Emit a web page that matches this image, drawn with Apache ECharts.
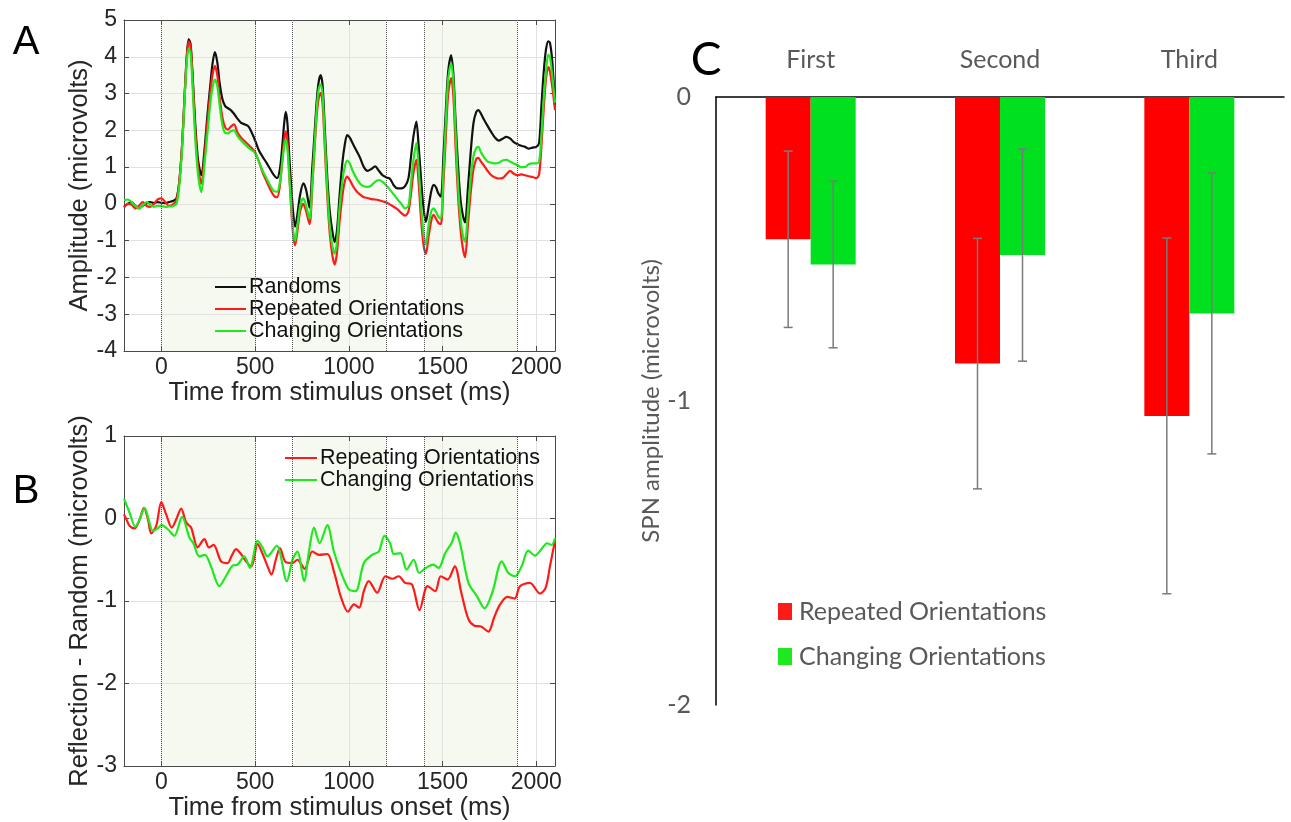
<!DOCTYPE html>
<html><head><meta charset="utf-8">
<script src="https://cdn.jsdelivr.net/npm/echarts@6/dist/echarts.min.js"></script>
<style>html,body{margin:0;padding:0;background:#fff}#chart{width:1291px;height:822px}</style>
</head><body><div id="chart"></div>
<script>
// ---------- Panel A data (ERP waveforms) ----------
const timesA = [-200,-180,-160,-140,-120,-100,-80,-60,-40,-20,0,20,40,60,80,95,110,125,135,145,155,165,180,195,213,230,245,260,272,285,298,310,325,340,355,370,387,405,425,445,465,485,500,520,540,560,580,600,617,632,645,655,663,672,682,692,702,713,725,740,757,772,790,805,818,830,840,850,860,872,885,898,912,924,936,950,965,978,991,1005,1020,1040,1060,1080,1100,1120,1140,1160,1180,1200,1220,1240,1260,1280,1300,1318,1332,1345,1360,1372,1385,1398,1411,1425,1440,1452,1465,1478,1491,1505,1518,1530,1546,1558,1570,1583,1596,1608,1620,1635,1650,1665,1680,1691,1705,1720,1740,1760,1780,1800,1820,1840,1860,1880,1900,1920,1940,1960,1980,2000,2015,2028,2040,2052,2064,2073,2085,2100];
const randomsA = [-0.08,0.00,0.05,-0.05,-0.12,-0.05,0.02,0.05,0.02,0.05,0.03,0.02,0.05,0.08,0.15,0.60,1.60,3.10,4.00,4.48,4.35,3.60,2.20,1.20,0.78,1.50,2.40,3.20,3.80,4.13,3.85,3.30,2.85,2.66,2.60,2.55,2.45,2.32,2.20,2.16,2.10,1.90,1.72,1.45,1.28,1.12,0.95,0.78,0.70,0.95,1.60,2.20,2.50,2.20,1.30,0.50,-0.20,-0.62,-0.30,0.25,0.56,0.38,-0.10,1.00,2.00,2.90,3.35,3.50,3.20,2.00,0.70,-0.20,-0.75,-1.04,-0.75,0.20,1.10,1.60,1.87,1.80,1.65,1.45,1.25,1.00,0.90,0.95,1.02,0.90,0.78,0.72,0.68,0.50,0.42,0.42,0.48,0.70,1.30,1.85,2.24,1.60,0.70,-0.10,-0.49,-0.10,0.35,0.52,0.45,0.28,0.20,1.33,2.60,3.60,4.04,3.50,2.20,1.00,0.10,-0.30,-0.50,0.40,1.40,2.20,2.50,2.55,2.45,2.30,2.12,1.95,1.80,1.72,1.77,1.82,1.78,1.68,1.62,1.58,1.55,1.50,1.53,1.55,1.65,2.70,3.60,4.20,4.42,4.38,3.90,2.70];
const repeatedA = [-0.10,0.00,-0.02,-0.12,-0.05,0.05,-0.05,-0.08,0.00,0.12,0.15,0.05,-0.05,-0.02,0.10,0.60,1.60,3.10,4.00,4.42,4.30,3.50,2.00,1.00,0.55,1.30,2.20,3.00,3.50,3.75,3.50,2.90,2.35,2.08,2.02,2.10,2.16,1.95,1.80,1.70,1.60,1.50,1.40,1.15,0.85,0.62,0.40,0.22,0.18,0.50,1.20,1.75,1.97,1.70,0.80,-0.10,-0.80,-1.13,-0.75,-0.20,0.00,-0.20,-0.55,0.50,1.60,2.50,2.90,3.02,2.70,1.50,0.20,-0.80,-1.40,-1.65,-1.35,-0.50,0.20,0.60,0.74,0.65,0.50,0.35,0.25,0.18,0.16,0.13,0.12,0.10,0.07,0.04,-0.02,-0.08,-0.15,-0.25,-0.32,-0.20,0.30,0.85,1.20,0.60,-0.40,-1.10,-1.36,-0.90,-0.45,-0.30,-0.40,-0.52,-0.55,0.60,1.90,3.00,3.42,2.90,1.50,0.20,-0.70,-1.20,-1.45,-0.60,0.30,0.95,1.22,1.25,1.15,1.05,0.90,0.78,0.72,0.69,0.70,0.80,0.90,0.82,0.78,0.80,0.78,0.75,0.73,0.70,0.80,1.60,2.60,3.40,3.72,3.60,3.20,2.55];
const changingA = [0.10,0.12,0.05,-0.05,-0.12,-0.05,0.05,-0.02,-0.08,-0.05,-0.06,-0.08,-0.07,-0.06,0.00,0.50,1.50,3.00,3.85,4.22,4.10,3.30,1.80,0.80,0.32,1.10,1.90,2.70,3.15,3.38,3.20,2.70,2.15,1.93,1.92,1.98,2.00,1.85,1.72,1.62,1.52,1.45,1.38,1.15,0.90,0.70,0.50,0.35,0.33,0.60,1.15,1.58,1.75,1.50,0.75,0.00,-0.70,-1.00,-0.60,-0.05,0.15,-0.05,-0.40,0.60,1.70,2.70,3.15,3.25,2.95,1.70,0.40,-0.60,-1.15,-1.35,-1.05,-0.10,0.60,1.00,1.18,1.10,0.90,0.70,0.55,0.48,0.46,0.50,0.60,0.65,0.60,0.50,0.38,0.25,0.12,0.00,-0.12,-0.05,0.60,1.20,1.65,1.00,0.00,-0.80,-1.10,-0.60,-0.20,-0.12,-0.22,-0.35,-0.40,0.90,2.30,3.40,3.83,3.30,1.90,0.50,-0.40,-0.85,-1.03,-0.20,0.70,1.30,1.52,1.55,1.40,1.28,1.15,1.12,1.10,1.12,1.18,1.20,1.15,1.10,1.05,1.00,1.00,1.08,1.10,1.10,1.15,1.90,2.90,3.60,4.05,4.00,3.50,2.75];

// ---------- Panel B data (difference waves) ----------
const timesBRepeating = [-200,-185,-170,-143,-116,-94,-72,-55,-28,-1,25,55,79,105,132,158,193,229,253,278,318,353,375,398,424,451,480,513,540,566,587,610,632,663,699,725,764,805,841,885,920,956,995,1027,1055,1080,1106,1151,1195,1231,1266,1300,1337,1377,1420,1461,1490,1527,1565,1600,1638,1670,1705,1745,1775,1805,1845,1885,1913,1966,2020,2050,2073,2100];
const valuesBRepeating = [0.05,-0.02,-0.09,-0.12,-0.01,0.13,-0.01,-0.18,-0.09,0.20,0.05,-0.11,-0.01,0.12,-0.05,-0.11,-0.35,-0.25,-0.35,-0.32,-0.52,-0.54,-0.45,-0.37,-0.43,-0.52,-0.58,-0.31,-0.43,-0.58,-0.68,-0.50,-0.36,-0.53,-0.54,-0.50,-0.61,-0.40,-0.44,-0.43,-0.64,-0.94,-1.13,-1.04,-1.08,-0.88,-0.76,-0.90,-0.70,-0.73,-0.70,-0.78,-0.80,-1.11,-0.82,-0.88,-0.70,-0.74,-0.58,-0.90,-1.22,-1.30,-1.31,-1.37,-1.20,-1.05,-0.95,-0.97,-0.82,-0.78,-0.91,-0.84,-0.58,-0.27];
const timesBChanging = [-200,-170,-140,-115,-90,-70,-46,-20,0,34,69,110,149,170,202,232,264,309,344,380,406,442,472,513,539,566,615,669,699,725,761,787,814,844,885,920,956,1000,1036,1080,1124,1160,1190,1220,1240,1275,1308,1346,1375,1410,1450,1479,1514,1550,1570,1594,1638,1683,1724,1765,1816,1851,1887,1922,1957,1993,2025,2058,2082,2100];
const valuesBChanging = [0.24,0.07,-0.10,0.00,0.13,0.00,-0.15,-0.12,-0.08,-0.13,-0.21,0.02,-0.23,-0.30,-0.46,-0.44,-0.58,-0.82,-0.70,-0.57,-0.56,-0.46,-0.60,-0.27,-0.35,-0.46,-0.33,-0.76,-0.50,-0.40,-0.76,-0.40,-0.11,-0.30,-0.08,-0.40,-0.64,-0.86,-0.88,-0.54,-0.44,-0.40,-0.21,-0.30,-0.43,-0.42,-0.62,-0.50,-0.66,-0.60,-0.56,-0.60,-0.42,-0.29,-0.17,-0.31,-0.78,-0.94,-1.09,-0.90,-0.52,-0.66,-0.70,-0.58,-0.39,-0.45,-0.38,-0.30,-0.32,-0.24];

// ---------- Shared time-axis annotations ----------
const timeTicks = [0, 500, 1000, 1500, 2000];
const epochLines = [0, 500, 700, 1200, 1400, 1900];
const shadedWindows = [[0, 500], [700, 1200], [1400, 1900]];

// ---------- Panel C data (SPN bars) ----------
const presentations = ['First', 'Second', 'Third'];
const repeatedSPN = [-0.468, -0.877, -1.049];
const repeatedErr = [0.290, 0.412, 0.585];
const changingSPN = [-0.551, -0.520, -0.712];
const changingErr = [0.274, 0.349, 0.462];

// ---------- Styling ----------
const RED = '#ff1a1a', GREEN = '#1fe81f', BLACK = '#111111';
const BAR_RED = '#ff0000', BAR_GREEN = '#00e01f';
const HEL = 'Liberation Sans';
const AX = '#4a4a4a', TXT = '#262626', GRIDC = '#e2e2e2';
const CAL = 'Lato', CTXT = '#595959';

function pair(ts, vs) { return ts.map((t, i) => [t, vs[i]]); }

function timeAxes(grid, nameGap) {
  return [
    { type: 'value', gridIndex: grid, position: 'bottom', min: -200, max: 2100, z: 2,
      name: 'Time from stimulus onset (ms)', nameLocation: 'middle', nameGap: nameGap,
      nameTextStyle: { fontFamily: HEL, fontSize: 25.5, color: TXT },
      axisLine: { show: true, onZero: false, lineStyle: { color: AX, width: 1 } },
      axisTick: { show: true, inside: true, length: 5, customValues: timeTicks, lineStyle: { color: AX } },
      axisLabel: { customValues: timeTicks, margin: 5, fontFamily: HEL, fontSize: 23, color: TXT,
        formatter: v => String(v) },
      splitLine: { show: true, lineStyle: { color: GRIDC, width: 1 } } },
    { type: 'value', gridIndex: grid, position: 'top', min: -200, max: 2100, z: 2,
      axisLine: { show: true, onZero: false, lineStyle: { color: AX, width: 1 } },
      axisTick: { show: true, inside: true, length: 5, customValues: timeTicks, lineStyle: { color: AX } },
      axisLabel: { show: false }, splitLine: { show: false } }
  ];
}
function ampAxes(grid, min, max, name, nameGap) {
  return [
    { type: 'value', gridIndex: grid, position: 'left', min: min, max: max, interval: 1, z: 2,
      name: name, nameLocation: 'middle', nameGap: nameGap,
      nameTextStyle: { fontFamily: HEL, fontSize: 25.5, color: TXT },
      axisLine: { show: true, onZero: false, lineStyle: { color: AX, width: 1 } },
      axisTick: { show: true, inside: true, length: 5, lineStyle: { color: AX } },
      axisLabel: { margin: 7, fontFamily: HEL, fontSize: 23, color: TXT },
      splitLine: { show: true, lineStyle: { color: GRIDC, width: 1 } } },
    { type: 'value', gridIndex: grid, position: 'right', min: min, max: max, interval: 1, z: 2,
      axisLine: { show: true, onZero: false, lineStyle: { color: AX, width: 1 } },
      axisTick: { show: true, inside: true, length: 5, lineStyle: { color: AX } },
      axisLabel: { show: false }, splitLine: { show: false } }
  ];
}
function shadingSeries(xi, yi) {
  return { type: 'line', xAxisIndex: xi, yAxisIndex: yi, data: [], z: 1, silent: true,
    markArea: { silent: true, itemStyle: { color: '#f6f9f0' },
      data: shadedWindows.map(([a, b]) => [{ xAxis: a }, { xAxis: b }]) },
    markLine: { silent: true, symbol: ['none', 'none'], label: { show: false },
      lineStyle: { type: 'dotted', color: '#555', width: 1 },
      data: epochLines.map(v => ({ xAxis: v })) } };
}
function wave(name, xi, yi, data, color) {
  return { type: 'line', name: name, xAxisIndex: xi, yAxisIndex: yi, data: data, z: 3,
    symbol: 'none', smooth: 0.3, lineStyle: { color: color, width: 2.2 }, itemStyle: { color: color } };
}
function errorBars(means, errs, offset) {
  return { type: 'custom', xAxisIndex: 4, yAxisIndex: 4, z: 5, silent: true,
    data: means.map((m, i) => [i, m, errs[i]]),
    renderItem: function (params, api) {
      const i = api.value(0), m = api.value(1), e = api.value(2);
      const p1 = api.coord([i, m + e]), p2 = api.coord([i, m - e]);
      const x = p1[0] + offset, hw = 4.5;
      const st = { stroke: '#7a7a7a', lineWidth: 1.5 };
      return { type: 'group', children: [
        { type: 'line', shape: { x1: x, y1: p1[1], x2: x, y2: p2[1] }, style: st },
        { type: 'line', shape: { x1: x - hw, y1: p1[1], x2: x + hw, y2: p1[1] }, style: st },
        { type: 'line', shape: { x1: x - hw, y1: p2[1], x2: x + hw, y2: p2[1] }, style: st }
      ] };
    } };
}

const chart = echarts.init(document.getElementById('chart'), null, { renderer: 'canvas' });
chart.setOption({
  animation: false,
  backgroundColor: '#ffffff',
  grid: [
    { left: 124, top: 20, width: 431, height: 331 },
    { left: 124, top: 436, width: 431, height: 331 },
    { left: 716, top: 97, width: 568, height: 608 }
  ],
  xAxis: [
    ...timeAxes(0, 25),
    ...timeAxes(1, 29),
    { type: 'category', gridIndex: 2, position: 'top', data: presentations,
      axisLine: { show: true, onZero: false, lineStyle: { color: '#000', width: 1.5 } },
      axisTick: { show: false },
      axisLabel: { margin: 25, fontFamily: CAL, fontSize: 25, color: CTXT },
      splitLine: { show: false } }
  ],
  yAxis: [
    ...ampAxes(0, -4, 5, 'Amplitude (microvolts)', 31),
    ...ampAxes(1, -3, 1, 'Reflection - Random (microvolts)', 29),
    { type: 'value', gridIndex: 2, min: -2, max: 0, interval: 1,
      name: 'SPN amplitude (microvolts)', nameLocation: 'middle', nameGap: 48,
      nameTextStyle: { fontFamily: CAL, fontSize: 24, color: CTXT },
      axisLine: { show: true, onZero: false, lineStyle: { color: '#000', width: 1.5 } },
      axisTick: { show: false },
      axisLabel: { margin: 25, fontFamily: CAL, fontSize: 25, color: CTXT },
      splitLine: { show: false } }
  ],
  legend: [
    { data: ['Randoms', 'Repeated Orientations', 'Changing Orientations'], orient: 'vertical',
      left: 215, top: 276, padding: 0, itemGap: 0, icon: 'rect', itemWidth: 31, itemHeight: 2,
      textStyle: { fontFamily: HEL, fontSize: 21.5, color: '#111', lineHeight: 21, padding: [0, 0, 0, -2] },
      selectedMode: false },
    { data: ['Repeating Orientations', 'Changing Orientations'], orient: 'vertical',
      left: 285, top: 447, padding: 0, itemGap: 0, icon: 'rect', itemWidth: 32, itemHeight: 2,
      textStyle: { fontFamily: HEL, fontSize: 21.5, color: '#111', lineHeight: 21, padding: [0, 0, 0, -2] },
      selectedMode: false },
    { data: ['Repeated Orientations', 'Changing Orientations'], orient: 'vertical',
      left: 778, top: 599, padding: 0, itemGap: 20, icon: 'rect', itemWidth: 14, itemHeight: 17,
      textStyle: { fontFamily: CAL, fontSize: 25, color: CTXT, lineHeight: 25, padding: [0, 0, 0, 2] },
      selectedMode: false }
  ],
  graphic: [
    { type: 'text', x: 26, y: 43, style: { text: 'A', fontFamily: HEL, fontSize: 40, fill: '#000', align: 'center', verticalAlign: 'middle' } },
    { type: 'text', x: 26, y: 492, style: { text: 'B', fontFamily: HEL, fontSize: 40, fill: '#000', align: 'center', verticalAlign: 'middle' } },
    { type: 'text', x: 706, y: 60, style: { text: 'C', fontFamily: CAL, fontSize: 46, fill: '#000', align: 'center', verticalAlign: 'middle' } }
  ],
  series: [
    shadingSeries(0, 0),
    wave('Randoms', 0, 0, pair(timesA, randomsA), BLACK),
    wave('Repeated Orientations', 0, 0, pair(timesA, repeatedA), RED),
    wave('Changing Orientations', 0, 0, pair(timesA, changingA), GREEN),
    shadingSeries(2, 2),
    wave('Repeating Orientations', 2, 2, pair(timesBRepeating, valuesBRepeating), RED),
    wave('Changing Orientations', 2, 2, pair(timesBChanging, valuesBChanging), GREEN),
    { type: 'bar', name: 'Repeated Orientations', xAxisIndex: 4, yAxisIndex: 4, data: repeatedSPN,
      barWidth: 45, barGap: '0%', itemStyle: { color: BAR_RED } },
    { type: 'bar', name: 'Changing Orientations', xAxisIndex: 4, yAxisIndex: 4, data: changingSPN,
      barWidth: 45, barGap: '0%', itemStyle: { color: BAR_GREEN } },
    errorBars(repeatedSPN, repeatedErr, -22.5),
    errorBars(changingSPN, changingErr, 22.5)
  ]
});
</script></body></html>
